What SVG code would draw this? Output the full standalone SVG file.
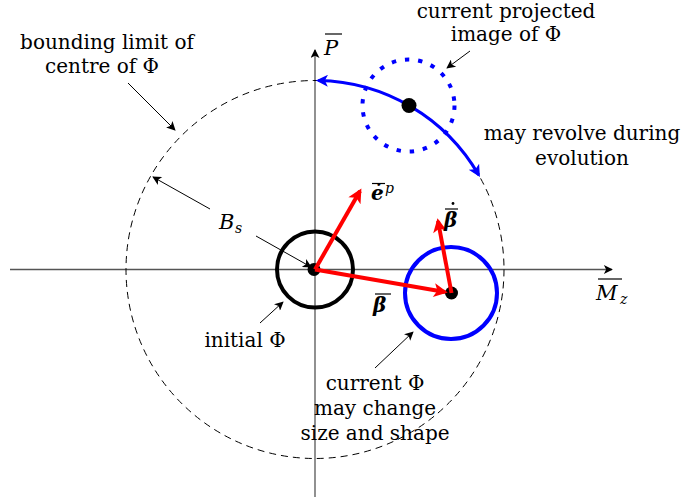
<svg xmlns="http://www.w3.org/2000/svg" width="681" height="502" viewBox="0 0 681 502">
<style>
.t{font-family:"DejaVu Serif","Liberation Serif",serif;font-size:20px;fill:#000}
.m{font-family:"DejaVu Serif","Liberation Serif",serif;font-style:italic;fill:#000}
.ax{stroke:#555;stroke-width:1.3;fill:none}
.ann{stroke:#000;stroke-width:1;fill:none}
.bar{stroke:#000;stroke-width:1.2}
</style>
<defs>
<marker id="ah" viewBox="0 0 10 10" refX="9" refY="5" markerWidth="10" markerHeight="9" markerUnits="userSpaceOnUse" orient="auto">
<path d="M0,0 L10,5 L0,10 L2.5,5 Z" fill="#000"/>
</marker>
<marker id="rh" viewBox="0 0 10 10" refX="8" refY="5" markerWidth="17" markerHeight="14" markerUnits="userSpaceOnUse" orient="auto">
<path d="M0,0 L10,5 L0,10 L2.5,5 Z" fill="#f00"/>
</marker>
<marker id="bh" viewBox="0 0 10 10" refX="8" refY="5" markerWidth="15" markerHeight="12" markerUnits="userSpaceOnUse" orient="auto-start-reverse">
<path d="M0,0 L10,5 L0,10 L2.5,5 Z" fill="#00f"/>
</marker>
</defs>

<g id="axes">
<line class="ax" x1="10" y1="269.5" x2="612" y2="269.5" marker-end="url(#ah)"/>
<line class="ax" x1="315" y1="497" x2="315" y2="50" marker-end="url(#ah)"/>
<g id="label-P">
<text class="m" x="324" y="55" font-size="21">P</text>
<line class="bar" x1="325" y1="34" x2="342" y2="34"/>
</g>
<g id="label-Mz">
<text class="m" x="596" y="300" font-size="21">M</text>
<text class="m" x="620" y="304" font-size="14">z</text>
<line class="bar" x1="598" y1="279" x2="622" y2="279"/>
</g>
</g>

<g id="bounding-circle">
<circle cx="315" cy="269.5" r="189" fill="none" stroke="#000" stroke-width="1" stroke-dasharray="7 5"/>
</g>

<g id="initial-phi">
<circle cx="315" cy="269.5" r="38" fill="none" stroke="#000" stroke-width="4"/>
<circle cx="314" cy="269.5" r="6.5" fill="#000"/>
</g>

<g id="current-phi">
<circle cx="451" cy="293" r="46" fill="none" stroke="#00f" stroke-width="4"/>
<circle cx="451.5" cy="293" r="6.5" fill="#000"/>
</g>

<g id="projected-phi">
<circle cx="408.5" cy="105.5" r="46" fill="none" stroke="#00f" stroke-width="4" stroke-dasharray="4.4 8.9"/>
</g>

<g id="connectors">
<path d="M318.3,80.5 A189,189 0 0 1 478.7,175" fill="none" stroke="#00f" stroke-width="3" marker-start="url(#bh)" marker-end="url(#bh)"/>
<circle cx="409" cy="105.5" r="7.5" fill="#000"/>
<line x1="315" y1="269.5" x2="360" y2="191" stroke="#f00" stroke-width="4" marker-end="url(#rh)"/>
<line x1="315" y1="269.5" x2="445" y2="292" stroke="#f00" stroke-width="4" marker-end="url(#rh)"/>
<line x1="451.5" y1="293" x2="438" y2="221" stroke="#f00" stroke-width="4" marker-end="url(#rh)"/>
<line class="ann" x1="470" y1="51" x2="447" y2="68" marker-end="url(#ah)"/>
<line class="ann" x1="128" y1="83" x2="175" y2="130" marker-end="url(#ah)"/>
<line class="ann" x1="210" y1="209" x2="153" y2="177" marker-end="url(#ah)"/>
<line class="ann" x1="256" y1="236" x2="311" y2="267" marker-end="url(#ah)"/>
<line class="ann" x1="260" y1="323" x2="283" y2="302" marker-end="url(#ah)"/>
<line class="ann" x1="375" y1="368" x2="413" y2="332" marker-end="url(#ah)"/>
</g>

<g id="label-projected">
<text class="t" x="506" y="18" text-anchor="middle" font-size="19.5">current projected</text>
<text class="t" x="506" y="41" text-anchor="middle">image of Φ</text>
</g>
<g id="label-bounding">
<text class="t" x="107" y="49" text-anchor="middle">bounding limit of</text>
<text class="t" x="102" y="73" text-anchor="middle">centre of Φ</text>
</g>
<g id="label-revolve">
<text class="t" x="582" y="140" text-anchor="middle">may revolve during</text>
<text class="t" x="582" y="165" text-anchor="middle">evolution</text>
</g>
<g id="label-initial">
<text class="t" x="245" y="347" text-anchor="middle">initial Φ</text>
</g>
<g id="label-current">
<text class="t" x="375" y="390" text-anchor="middle">current Φ</text>
<text class="t" x="375" y="415" text-anchor="middle">may change</text>
<text class="t" x="375" y="440" text-anchor="middle">size and shape</text>
</g>
<g id="label-Bs">
<text class="m" x="219" y="229" font-size="21">B</text>
<text class="m" x="235" y="233" font-size="14">s</text>
</g>
<g id="label-ep">
<text class="m" x="371" y="200" font-size="20" font-weight="bold">ė</text>
<text class="m" x="385" y="193" font-size="14">p</text>
<line class="bar" x1="372" y1="183.5" x2="385" y2="183.5"/>
</g>
<g id="label-betadot">
<text class="m" x="444" y="227" font-size="20" font-weight="bold">β</text>
<line class="bar" x1="445" y1="209" x2="458" y2="209"/>
<circle cx="453" cy="203.5" r="1.4" fill="#000"/>
</g>
<g id="label-beta">
<text class="m" x="373" y="312" font-size="20" font-weight="bold">β</text>
<line class="bar" x1="375" y1="294" x2="391" y2="294"/>
</g>
</svg>
